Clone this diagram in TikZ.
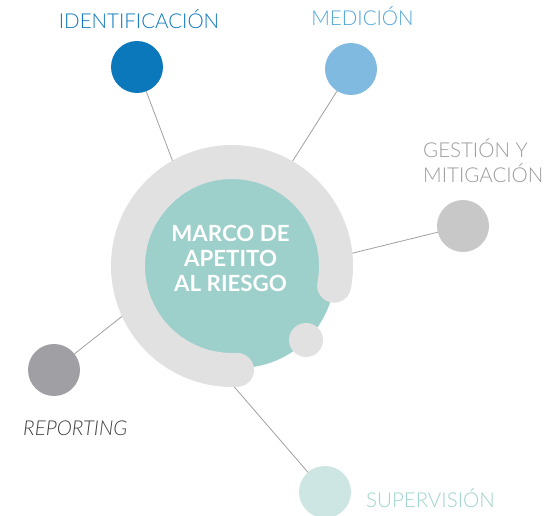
\documentclass[tikz,border=0pt]{standalone}
\usepackage{fontspec}
\setmainfont{Lato}
\newfontfamily\lightfont{Lato Light}
\definecolor{idblue}{HTML}{0B78BB}
\definecolor{medblue}{HTML}{80BAE0}
\definecolor{medtext}{HTML}{52A6DC}
\definecolor{gestgray}{HTML}{C8C8C8}
\definecolor{gesttext}{HTML}{9B9B9B}
\definecolor{repgray}{HTML}{A0A0A4}
\definecolor{reptext}{HTML}{404040}
\definecolor{supteal}{HTML}{CDE6E3}
\definecolor{suptext}{HTML}{9ED3CD}
\definecolor{centerteal}{HTML}{9DCFCB}
\definecolor{ringgray}{HTML}{E1E1E1}
\definecolor{linegray}{HTML}{A0A0A0}
\begin{document}
\begin{tikzpicture}[x=1pt,y=-1pt,
  dot/.style={circle,minimum size=52pt,inner sep=0pt,outer sep=0pt},
  link/.style={draw=linegray,line width=0.8pt},
  lbl/.style={inner sep=0pt,font=\lightfont\fontsize{20.5}{24}\selectfont},
  ctext/.style={inner sep=0pt,text=white,font=\bfseries\fontsize{22.3}{25}\selectfont}]
\useasboundingbox (0,0) rectangle (547,516);
% outer circles
\node[dot,fill=idblue] (id) at (137,67) {};
\node[dot,fill=medblue] (med) at (351,69) {};
\node[dot,fill=gestgray] (gest) at (463,226) {};
\node[dot,fill=repgray] (rep) at (54,370) {};
\node[dot,fill=supteal] (sup) at (325,492) {};
% connector ends (hidden behind ring)
\coordinate (cid) at (176,170);
\coordinate (cmed) at (287,170);
\coordinate (cgest) at (345,255);
\coordinate (crep) at (125,314);
\coordinate (csup) at (230,382);
\draw[link] (id) -- (cid);
\draw[link] (med) -- (cmed);
\draw[link] (gest) -- (cgest);
\draw[link] (rep) -- (crep);
\draw[link] (sup) -- (csup);
% centre
\node[circle,fill=centerteal,minimum size=192pt,inner sep=0pt] (core) at (239,272) {};
\coordinate (ringc) at (232,266);
\draw[ringgray,line width=34pt,line cap=round]
  ([shift={(-10.9:104pt)}]ringc) arc[start angle=-10.9,end angle=272.75,radius=104pt];
\node[circle,fill=ringgray,minimum size=34pt,inner sep=0pt] (knob) at (306,340) {};
% texts
\node[ctext,anchor=base] (t1) at (230.5,242) {MARCO DE};
\node[ctext,anchor=base] (t2) at (230.5,267) {APETITO};
\node[ctext,anchor=base] (t3) at (230.5,292) {AL RIESGO};
\node[lbl,text=idblue,anchor=base] (lid) at (139,29) {IDENTIFICACIÓN};
\node[lbl,text=medtext,anchor=base] (lmed) at (362.5,26) {MEDICIÓN};
\node[lbl,text=gesttext,anchor=base west] (lg1) at (423,158) {GESTIÓN Y};
\node[lbl,text=gesttext,anchor=base west] (lg2) at (423,183) {MITIGACIÓN};
\node[lbl,text=reptext,anchor=base west,font=\lightfont\itshape\fontsize{20.5}{24}\selectfont] (lrep) at (23,435) {REPORTING};
\node[lbl,text=suptext,anchor=base west] (lsup) at (366,507) {SUPERVISIÓN};
\end{tikzpicture}
\end{document}
